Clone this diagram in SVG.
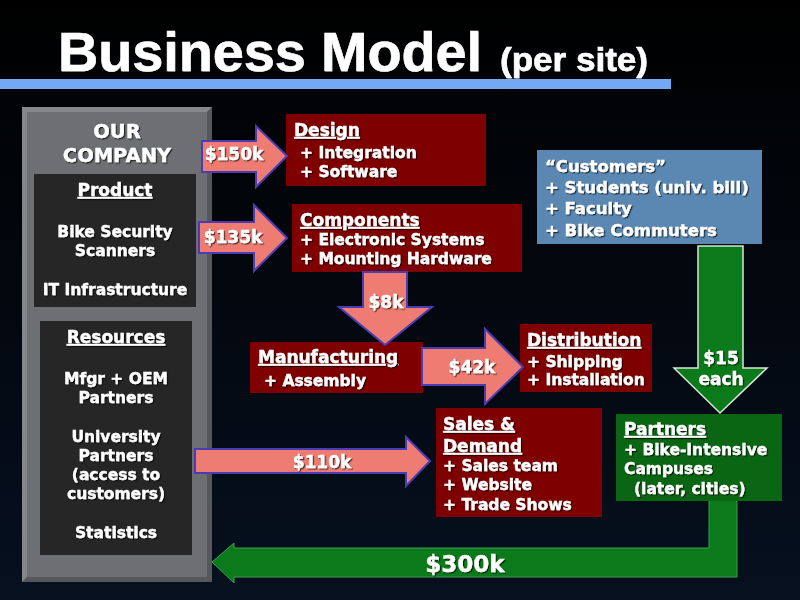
<svg xmlns="http://www.w3.org/2000/svg" width="800" height="600" viewBox="0 0 800 600">
<defs>
<linearGradient id="bg" x1="0" y1="0" x2="0" y2="1">
<stop offset="0" stop-color="#000000"/>
<stop offset="1" stop-color="#06101f"/>
</linearGradient>
<filter id="sh" x="-10%" y="-20%" width="130%" height="150%">
<feDropShadow dx="1.2" dy="1.2" stdDeviation="0.7" flood-color="#000" flood-opacity="0.7"/>
</filter>
<style>
text{font-family:"DejaVu Sans",Verdana,sans-serif;font-weight:bold;fill:#fff;stroke:#fff;stroke-width:0.35;filter:url(#sh)}
.t{font-family:"Liberation Sans",Arial,sans-serif;stroke-width:0.6}
.h{font-size:17px;text-decoration:underline}
.i{font-size:15.5px}
.c{text-anchor:middle}
.m{font-size:17px;text-anchor:middle}
.red{fill:#7f0000}
.pink{fill:#ee7c72;stroke:#4b3cb4;stroke-width:2}
.inner{fill:#262626}
</style>
</defs>
<rect width="800" height="600" fill="url(#bg)"/>

<g id="title">
<text class="t" x="58" y="71" font-size="55.5" textLength="424" lengthAdjust="spacingAndGlyphs">Business Model</text>
<text class="t" x="500" y="71" font-size="34" textLength="148" lengthAdjust="spacingAndGlyphs">(per site)</text>
<rect x="0" y="79" width="671" height="10" fill="#73a8f2"/>
</g>

<g id="company">
<rect x="22" y="107" width="190" height="475" fill="#6d6f73"/>
<path d="M22,107 H212 L207,112 H27 V577 L22,582 Z" fill="#85878b"/>
<path d="M212,107 V582 H22 L27,577 H207 V112 Z" fill="#55575a"/>
<text class="c" x="117" y="138" font-size="19.5">OUR</text>
<text class="c" x="117" y="162" font-size="19.5">COMPANY</text>
</g>

<g id="product">
<rect class="inner" x="34" y="174" width="162" height="133"/>
<text class="h c" x="115" y="196">Product</text>
<text class="i c" x="115" y="237">Bike Security</text>
<text class="i c" x="115" y="256">Scanners</text>
<text class="i c" x="115" y="295">IT Infrastructure</text>
</g>

<g id="resources">
<rect class="inner" x="40" y="321" width="152" height="234"/>
<text class="h c" x="116" y="343">Resources</text>
<text class="i c" x="116" y="384">Mfgr + OEM</text>
<text class="i c" x="116" y="403">Partners</text>
<text class="i c" x="116" y="442">University</text>
<text class="i c" x="116" y="461">Partners</text>
<text class="i c" x="116" y="480">(access to</text>
<text class="i c" x="116" y="499">customers)</text>
<text class="i c" x="116" y="538">Statistics</text>
</g>

<g id="design">
<rect class="red" x="286" y="114" width="200" height="72"/>
<text class="h" x="294" y="136">Design</text>
<text class="i" x="300" y="158">+ Integration</text>
<text class="i" x="300" y="177">+ Software</text>
</g>

<g id="components">
<rect class="red" x="292" y="204" width="230" height="68"/>
<text class="h" x="300" y="226">Components</text>
<text class="i" x="300" y="245">+ Electronic Systems</text>
<text class="i" x="300" y="264">+ Mounting Hardware</text>
</g>

<g id="manufacturing">
<rect class="red" x="250" y="342" width="173" height="51"/>
<text class="h" x="258" y="363">Manufacturing</text>
<text class="i" x="264" y="386">+ Assembly</text>
</g>

<g id="distribution">
<rect class="red" x="520" y="324" width="132" height="68"/>
<text class="h" x="527" y="346">Distribution</text>
<text class="i" x="527" y="367">+ Shipping</text>
<text class="i" x="527" y="385">+ Installation</text>
</g>

<g id="sales">
<rect class="red" x="436" y="408" width="166" height="109"/>
<text class="h" x="443" y="430">Sales &amp;</text>
<text class="h" x="443" y="452">Demand</text>
<text class="i" x="443" y="471">+ Sales team</text>
<text class="i" x="443" y="490">+ Website</text>
<text class="i" x="443" y="510">+ Trade Shows</text>
</g>

<g id="customers">
<rect x="537" y="150" width="225" height="94" fill="#5a88b3"/>
<text x="545" y="172" font-size="16.5">“Customers”</text>
<text x="545" y="193" font-size="16.5">+ Students (univ. bill)</text>
<text x="545" y="214" font-size="16.5">+ Faculty</text>
<text x="545" y="236" font-size="16.5">+ Bike Commuters</text>
</g>

<g id="partners">
<rect x="616" y="414" width="166" height="87" fill="#0a6612"/>
<text class="h" x="624" y="435">Partners</text>
<text class="i" x="624" y="455">+ Bike-Intensive</text>
<text class="i" x="624" y="474">Campuses</text>
<text class="i" x="634" y="494">(later, cities)</text>
</g>

<g id="connectors">
<path class="pink" d="M202,141 H256 V126 L287,156 L256,187 V172 H202 Z"/>
<text class="m" x="234" y="160">$150k</text>
<path class="pink" d="M199,222 H254 V205 L287,238 L254,271 V253 H199 Z"/>
<text class="m" x="233" y="243">$135k</text>
<path class="pink" d="M363,272 H407 V307 H432 L385,345 L339,307 H363 Z"/>
<text class="m" x="386" y="308">$8k</text>
<path class="pink" d="M422,348 H485 V329 L523,367 L485,404 V385 H422 Z"/>
<text class="m" x="472" y="373">$42k</text>
<path class="pink" d="M195,449 H406 V437 L430,461 L406,486 V473 H195 Z"/>
<text class="m" x="322" y="468">$110k</text>
<path d="M698,246 H743 V368 H767 L720,413 L674,368 H698 Z" fill="#0a7a1a" stroke="#d8e8d8" stroke-width="1.5"/>
<text class="m" x="721" y="364">$15</text>
<text class="m" x="721" y="385">each</text>
<path d="M709,501 V548 H234 V543 L212,562 L234,583 V577 H737 V501" fill="#0a7a1a" stroke="#3aa050" stroke-width="1"/>
<text class="c" x="465" y="572" font-size="23">$300k</text>
</g>
</svg>
